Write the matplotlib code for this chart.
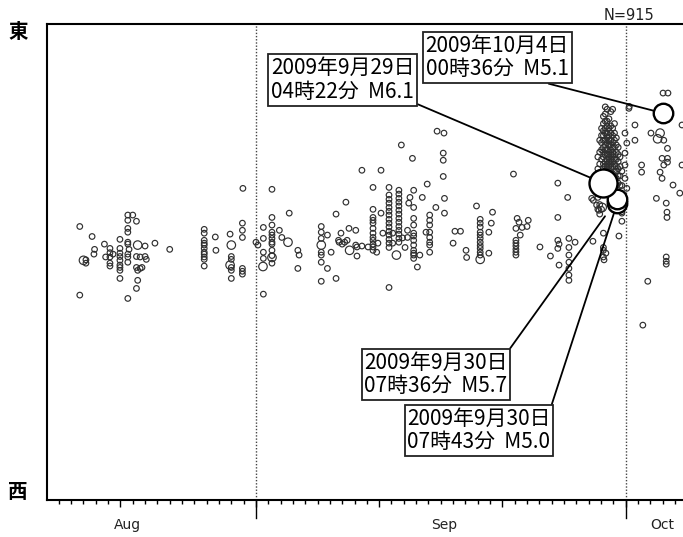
import datetime as dt

import matplotlib
matplotlib.use("Agg")
import matplotlib.pyplot as plt
import matplotlib.dates as mdates
import matplotlib.transforms as mtransforms

plt.rcParams['font.family'] = ['DejaVu Sans']
JP = ['Noto Sans CJK JP', 'DejaVu Sans']

BASE = dt.datetime(2009, 8, 1)

# --- data -------------------------------------------------------------
# time = days after 2009-08-01 00:00, pos = relative E-W position (0 west .. 100 east)
aug_day = [16.7, 16.7, 17.2, 17.2, 17.7, 17.9, 17.85, 18.7, 18.8, 19.15, 19.15, 19.15,
           19.15, 19.15, 19.4, 19.96, 19.96, 19.96, 19.96, 19.96, 19.96, 19.96, 19.96,
           19.96, 20.6, 21.0, 21.3, 20.6, 20.6, 20.6, 20.6, 20.6, 20.7, 20.6, 20.6, 20.6,
           22.0, 21.3, 21.6, 22.0, 22.1, 21.3, 21.6, 21.4, 21.75, 21.4, 21.3, 20.6, 22.8,
           24.0, 26.8, 26.8, 26.8, 26.8, 26.8, 26.8, 26.8, 26.8, 26.8, 26.8, 26.8, 27.7,
           27.75, 28.9, 29.0, 29.0, 29.0, 29.0, 29.0, 29.9, 29.9, 29.9, 29.9, 29.9, 29.9,
           29.94]
aug_pos = [57.4, 43.0, 49.7, 50.4, 55.3, 52.6, 51.6, 53.7, 51.0, 52.8, 51.0, 51.9,
           49.7, 49.1, 51.6, 54.7, 52.8, 51.8, 51.1, 50.3, 49.3, 48.8, 48.2,
           46.5, 59.8, 59.8, 58.5, 58.7, 57.0, 56.2, 54.1, 53.7, 52.6, 51.6, 51.0, 49.9,
           53.3, 51.1, 51.0, 51.1, 50.5, 48.8, 48.6, 48.2, 48.8, 46.1, 44.4, 42.3, 53.9,
           52.6, 56.8, 56.0, 54.5, 53.9, 53.5, 52.8, 52.0, 51.6, 51.0, 50.5, 49.1, 55.2,
           52.4, 55.8, 51.1, 50.5, 48.8, 48.2, 46.5, 58.1, 56.6, 55.1, 48.6, 48.0, 47.4,
           65.4]

early_sep_day = [31.0, 31.16, 31.6, 31.6, 31.6, 31.6, 31.6, 32.3,
                 32.3, 32.3, 32.3, 32.3, 32.3, 32.3, 32.3, 32.3, 32.3, 32.3,
                 32.9, 33.1, 33.7, 34.4, 34.5, 34.4,
                 36.3, 36.3, 36.3, 36.3, 36.3, 36.3, 36.3, 36.8, 36.8, 37.1, 37.5, 37.5,
                 37.9, 37.7, 37.75, 38.0, 38.2, 38.4, 38.3, 38.55, 39.1, 39.2, 39.1, 39.2,
                 39.6, 40.1, 39.6, 41.15, 40.5,
                 40.5, 40.5, 40.5, 40.5, 40.5, 40.5, 40.5, 40.5, 40.5, 40.5, 40.5,
                 40.9, 40.8, 41.15, 41.3, 41.8,
                 41.8, 41.8, 41.8, 41.8, 41.8, 41.8, 41.8, 41.8, 41.8, 41.8, 41.8, 41.8,
                 41.8, 41.8, 41.8,
                 42.6, 42.6, 42.6, 42.6, 42.6, 42.6, 42.6, 42.6, 42.6, 42.6, 42.6, 42.6,
                 42.6, 42.6,
                 42.1, 42.1, 42.9, 43.1, 43.3, 43.3, 43.4, 43.5, 42.8, 43.7,
                 43.8, 43.8, 43.8, 43.8, 43.8, 43.8, 43.8, 43.8, 43.8, 43.8, 43.8, 43.8,
                 44.1, 44.3, 44.5, 44.8, 44.9,
                 45.1, 45.1, 45.1, 45.1, 45.1, 45.1, 45.1, 45.1, 45.6, 45.7]
early_sep_pos = [54.1, 53.5, 57.2, 54.9, 52.0, 50.7, 43.2, 65.2,
                 59.3, 57.7, 56.2, 55.6, 54.9, 54.1, 53.7, 52.4, 51.3, 49.7,
                 56.6, 55.1, 60.2, 52.4, 51.4, 48.6,
                 57.4, 56.2, 54.9, 52.0, 51.4, 49.9, 45.9, 48.6, 55.6, 52.0, 60.0, 46.5,
                 56.0, 54.5, 54.1, 53.7, 54.1, 54.5, 62.5, 57.0, 56.6, 51.2, 53.5, 53.1,
                 53.3, 53.1, 69.2, 69.2, 65.6,
                 61.0, 59.3, 58.7, 58.1, 57.0, 56.0, 55.1, 54.5, 53.7, 53.1, 52.4,
                 53.9, 52.0, 60.2, 56.0, 65.6,
                 64.0, 63.1, 62.3, 61.4, 60.6, 59.8, 58.9, 58.1, 57.3, 56.4, 55.6, 54.7,
                 53.9, 53.0, 44.6,
                 65.0, 64.2, 63.3, 62.5, 61.7, 60.8, 60.0, 59.1, 58.3, 57.4, 56.6, 55.8,
                 54.9, 54.1,
                 56.0, 53.9, 55.0, 53.0, 55.1, 56.6, 62.3, 63.5, 74.5, 71.7,
                 65.0, 61.4, 59.1, 57.7, 56.0, 55.4, 54.5, 53.5, 52.4, 51.8, 51.4, 50.7,
                 48.9, 51.4, 63.5, 56.2, 66.3,
                 59.8, 58.7, 57.7, 56.2, 55.1, 54.1, 53.5, 52.0, 61.4, 77.4]

late_sep_day = [46.26, 46.2, 46.2, 46.2, 46.3, 46.3, 47.15, 47.6, 47.0, 48.05, 48.1, 48.9,
                49.2, 49.2, 49.2, 49.2, 49.2, 49.2, 49.2, 49.2, 49.2, 49.2, 49.2,
                49.9, 50.1, 50.2, 49.9, 51.9, 52.1, 52.2, 52.35, 52.6, 53.0, 53.1, 52.45,
                52.1, 52.1, 52.1, 52.1, 52.1, 52.1, 54.05, 54.9,
                55.5, 55.5, 55.5, 55.6, 55.5, 55.6, 56.3,
                56.4, 56.4, 56.4, 56.4, 56.4, 56.4, 56.4, 56.9, 58.35,
                58.25, 58.38, 58.65, 58.84]
late_sep_pos = [77.0, 72.8, 71.3, 67.9, 63.3, 60.2, 56.4, 56.4, 53.9, 52.4, 50.9, 61.7,
                58.9, 58.1, 57.3, 56.2, 55.6, 54.9, 54.1, 53.4, 52.8, 52.0, 51.4,
                56.2, 58.1, 60.4, 51.8, 68.4, 57.0, 59.1, 58.3, 57.2, 57.4, 58.7, 55.6,
                54.5, 53.9, 53.3, 52.6, 52.0, 51.4, 53.1, 51.2,
                66.5, 59.3, 54.5, 53.7, 52.8, 49.3, 63.5,
                54.9, 53.0, 51.4, 49.9, 48.6, 47.2, 46.1, 54.1, 54.3,
                63.3, 62.9, 61.9, 60.8]

# swarm after the 29 Sep M6.1, listed column by column
swarm_day = [58.75] * 5 + [58.9] * 6 + [59.05] * 7 + [59.2] * 10 + [59.35] * 12 + \
            [59.5] * 12 + [59.65] * 11 + [59.8] * 12 + [59.95] * 11 + [60.1] * 10 + \
            [60.25] * 8 + [60.4] * 7 + [60.55] * 6 + [60.7] * 5 + \
            [59.2, 59.2, 59.2, 59.4, 59.2, 59.25, 60.46, 60.7, 60.8]
swarm_pos = [61.0, 63.5, 66.0, 69.5, 72.0,
             60.0, 62.0, 64.5, 70.5, 73.0, 75.5,
             61.0, 68.0, 71.5, 73.5, 75.0, 76.5, 78.0,
             69.5, 70.5, 72.0, 73.0, 74.0, 75.5, 76.5, 77.5, 79.0, 80.5,
             69.0, 70.0, 71.0, 72.5, 73.5, 74.5, 75.5, 77.0, 78.0, 79.5, 81.0, 82.5,
             68.5, 69.5, 70.5, 71.5, 72.5, 73.5, 75.0, 76.0, 77.0, 78.5, 79.5, 82.0,
             68.0, 69.0, 70.0, 71.0, 72.0, 73.0, 74.5, 75.5, 76.5, 78.0, 80.0,
             67.0, 68.5, 69.5, 70.5, 71.5, 72.5, 73.5, 74.5, 75.5, 77.0, 78.5, 81.5,
             67.5, 68.5, 70.0, 71.0, 72.0, 73.0, 74.0, 75.0, 76.5, 78.0, 82.0,
             66.5, 68.0, 69.0, 70.5, 71.5, 72.5, 74.0, 75.5, 77.0, 79.0,
             66.0, 67.5, 69.0, 70.0, 71.5, 73.0, 74.5, 76.0,
             64.5, 66.5, 68.0, 69.5, 71.0, 72.5, 74.0,
             61.0, 64.0, 66.0, 68.0, 70.0, 72.0,
             58.5, 60.5, 63.0, 66.0, 69.0,
             56.0, 53.0, 52.4, 51.8, 51.0, 50.4, 55.4, 60.2, 61.4]

oct_day = [60.95, 61.1, 60.95, 60.95, 60.95, 61.1, 61.27, 61.3, 61.76, 61.76, 62.3, 62.3,
           62.8, 62.4, 63.06, 63.5, 64.1, 64.4, 64.4, 63.96, 63.8, 63.96, 64.4, 64.1,
           64.04, 64.44, 64.3, 64.36, 64.36, 64.3, 64.3, 64.3, 64.85, 65.4, 65.58, 65.58]
oct_pos = [77.0, 74.9, 72.8, 70.3, 67.5, 65.4, 82.2, 82.6, 78.7, 75.5, 70.3, 68.8,
           45.9, 36.7, 77.0, 63.3, 75.5, 73.8, 71.7, 71.7, 68.8, 67.5, 70.9, 70.3,
           85.4, 85.4, 62.3, 60.4, 59.3, 51.0, 50.1, 49.5, 66.1, 64.4, 78.7, 70.3]

# M3-class events drawn a little larger
mid_day = [17.0, 21.4, 29.0, 28.9, 31.57, 32.3, 33.6, 36.3, 38.6, 42.4, 49.2, 59.1, 63.8, 63.6]
mid_pos = [50.3, 53.5, 53.5, 49.3, 49.0, 50.9, 54.1, 53.5, 52.4, 51.4, 50.5, 61.4, 77.0, 75.8]
mid_mag = [3.6, 3.4, 3.7, 3.3, 3.4, 3.4, 3.8, 3.3, 3.6, 3.5, 3.4, 3.6, 3.6, 3.8]

# labelled events
big_day = [59.182, 60.317, 60.322, 64.025]
big_pos = [66.5, 63.1, 62.3, 81.2]
big_mag = [6.1, 5.7, 5.0, 5.1]
big_label = ['2009年9月29日\n04時22分  M6.1',
             '2009年9月30日\n07時36分  M5.7',
             '2009年9月30日\n07時43分  M5.0',
             '2009年10月4日\n00時36分  M5.1']

N_TOTAL = 915


def to_num(days):
    return [mdates.date2num(BASE + dt.timedelta(days=d)) for d in days]


def marker_area(mag):
    # symbol diameter (pixels) by magnitude class
    if mag >= 6.0:
        d = 28
    elif mag >= 5.0:
        d = 19.5
    elif mag >= 4.0:
        d = 13
    elif mag >= 3.0:
        d = 8.5
    else:
        d = 5.6
    return (d * 0.72) ** 2


fig = plt.figure(figsize=(6.83, 5.37), dpi=100)
ax = fig.add_axes([47 / 683, 37 / 537, 636 / 683, 476.5 / 537])

small_day = aug_day + early_sep_day + late_sep_day + swarm_day + oct_day
small_pos = aug_pos + early_sep_pos + late_sep_pos + swarm_pos + oct_pos
ax.scatter(to_num(small_day), small_pos, s=marker_area(2.0), facecolors='none',
           edgecolors='#303030', linewidths=0.85, zorder=2)
ax.scatter(to_num(mid_day), mid_pos, s=[marker_area(m) for m in mid_mag],
           facecolors='none', edgecolors='#303030', linewidths=0.85, zorder=2)

# notable events: white filled circles on top of the swarm
order = sorted(range(len(big_mag)), key=lambda i: big_mag[i])
for i in order:
    ax.scatter(to_num([big_day[i]]), [big_pos[i]], s=marker_area(big_mag[i]),
               facecolors='white', edgecolors='black', linewidths=1.7, zorder=6)

# label boxes (axes-fraction centre, line attach point on the box, line shortening)
box_xy = [(0.465, 0.8814), (0.6117, 0.2634), (0.6792, 0.1459), (0.708, 0.9287)]
box_rel = [(1, 0), (1, 1), (1, 1), (0, 0.62)]
box_shrink = [0, 15, 0, 0]
for i in range(len(big_label)):
    ax.annotate(big_label[i], xy=(to_num([big_day[i]])[0], big_pos[i]),
                xytext=box_xy[i], textcoords='axes fraction',
                ha='center', va='center', fontsize=15, family=JP, linespacing=1.1,
                bbox=dict(boxstyle='square,pad=0.13', fc='white', ec='#222222', lw=1.3),
                arrowprops=dict(arrowstyle='-', color='black', lw=1.3,
                                relpos=box_rel[i], shrinkA=0, shrinkB=box_shrink[i]),
                zorder=4)

# axes cosmetics
x0 = mdates.date2num(BASE + dt.timedelta(days=14.04))
x1 = mdates.date2num(BASE + dt.timedelta(days=65.66))
ax.set_xlim(x0, x1)
ax.set_ylim(0, 100)

ax.xaxis.set_major_locator(mdates.DayLocator(bymonthday=[1, 11, 21]))
ax.xaxis.set_minor_locator(mdates.DayLocator())
ax.tick_params(axis='x', which='major', direction='out', length=5, width=1.0,
               labelbottom=False)
ax.tick_params(axis='x', which='minor', direction='out', length=3, width=1.0)
ax.tick_params(axis='y', left=False, labelleft=False)

for sp in ['top', 'left', 'bottom']:
    ax.spines[sp].set_linewidth(1.5)
ax.spines['right'].set_visible(False)

trans = mtransforms.blended_transform_factory(ax.transData, ax.transAxes)
month_starts = to_num([31, 61])
for m in month_starts:
    ax.axvline(m, color='#444444', ls=(0, (1, 1.3)), lw=1.0, zorder=1)
    ax.plot([m, m], [0, -0.038], transform=trans, color='black', lw=1.0,
            clip_on=False)

month_names = ['Aug', 'Sep', 'Oct']
month_label_day = [20.6, 46.26, 63.95]
for name, d in zip(month_names, to_num(month_label_day)):
    ax.text(d, -0.053, name, transform=trans, ha='center', va='center', fontsize=10,
            color='#222222')

fig.text(629 / 683, 1 - 15 / 537, f'N={N_TOTAL}', ha='center', va='center',
         fontsize=10.5, color='#222222')
fig.text(18 / 683, 1 - 33 / 537, '東', ha='center', va='center', fontsize=14,
         fontweight='bold', family=JP)
fig.text(18 / 683, 1 - 492 / 537, '西', ha='center', va='center', fontsize=14,
         fontweight='bold', family=JP)

fig.savefig('out.png', dpi=100)
